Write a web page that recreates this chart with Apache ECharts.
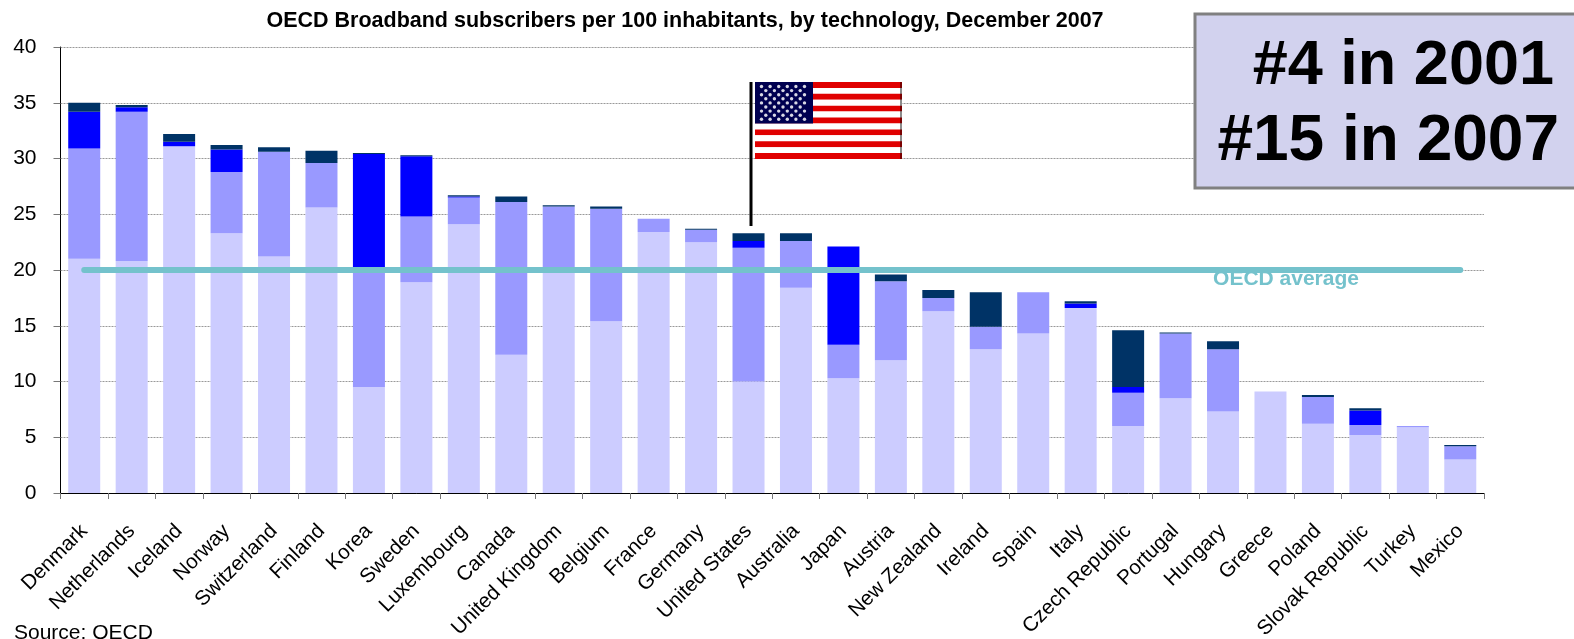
<!DOCTYPE html>
<html>
<head>
<meta charset="utf-8">
<style>html,body{margin:0;padding:0;background:#fff;overflow:hidden}#c{width:1574px;height:639px}</style>
<script src="https://cdn.jsdelivr.net/npm/echarts@6/dist/echarts.min.js"></script>
</head>
<body>
<div id="c"></div>
<script>
const categories = ["Denmark","Netherlands","Iceland","Norway","Switzerland","Finland","Korea","Sweden","Luxembourg","Canada","United Kingdom","Belgium","France","Germany","United States","Australia","Japan","Austria","New Zealand","Ireland","Spain","Italy","Czech Republic","Portugal","Hungary","Greece","Poland","Slovak Republic","Turkey","Mexico"];
const lightSeg = [21.0,20.8,31.1,23.3,21.2,25.6,9.5,18.9,24.1,12.4,20.1,15.4,23.4,22.5,10.0,18.4,10.3,11.9,16.3,12.9,14.3,16.6,6.0,8.5,7.3,9.1,6.2,5.2,5.9,3.0];
const midSeg = [9.9,13.4,0,5.5,9.4,4.0,10.7,5.9,2.4,13.7,5.6,10.1,1.2,1.1,12.0,4.2,3.0,7.1,1.2,2.0,3.7,0,3.0,5.8,5.6,0,2.4,0.9,0.1,1.2];
const blueSeg = [3.3,0.4,0.4,2.0,0,0,10.2,5.4,0.1,0,0,0,0,0,0.6,0,8.8,0,0,0,0,0.4,0.5,0,0,0,0,1.3,0,0];
const navySeg = [0.8,0.2,0.7,0.4,0.4,1.1,0.1,0.1,0.1,0.5,0.1,0.2,0,0.1,0.7,0.7,0,0.6,0.7,3.1,0,0.2,5.1,0.1,0.7,0,0.2,0.2,0,0.1];
const oecdAverage = categories.map(() => 20);
const yTicks = {min:0,max:40,interval:5};
const titleText = "OECD Broadband subscribers per 100 inhabitants, by technology, December 2007";
const boxLines = ["#4 in 2001","#15 in 2007"];
const FONT = '"Liberation Sans", Arial, sans-serif';

function flag(){
  const x=755,y=82,w=147,h=77,sh=h/13,cw=58,ch=sh*7,out=[];
  out.push({type:'rect',shape:{x:749.5,y:82,width:3,height:144},style:{fill:'#000'}});
  for(let i=0;i<13;i++){
    out.push({type:'rect',shape:{x,y:y+i*sh,width:w,height:sh},style:{fill:i%2?'#fff':'#E00000'}});
  }
  out.push({type:'rect',shape:{x:x+w-2,y,width:2,height:h},style:{fill:'rgba(0,0,0,0.45)'}});
  out.push({type:'rect',shape:{x,y,width:cw,height:ch},style:{fill:'#000050'}});
  for(let r=0;r<9;r++){
    const n=r%2?5:6;
    for(let k=0;k<n;k++){
      out.push({type:'circle',shape:{cx:x+6.5+(r%2?4.3:0)+k*8.6,cy:y+4.5+r*4.1,r:1.7},style:{fill:'#D8D8E4'}});
    }
  }
  return out;
}

const chart = echarts.init(document.getElementById('c'),null,{renderer:'canvas'});
function bar(name,data,color){
  return {name,type:'bar',stack:'t',data,barWidth:32,itemStyle:{color},silent:true,z:2};
}
chart.setOption({
  animation:false,
  title:{text:titleText,left:680,top:5,textAlign:'center',textStyle:{fontFamily:FONT,fontWeight:'bold',fontSize:21.5,color:'#000'}},
  grid:{left:60.5,right:90,top:47,bottom:146,containLabel:false,outerBoundsMode:'none'},
  xAxis:{type:'category',data:categories,
    axisLine:{show:true,lineStyle:{color:'#000',width:1}},
    axisTick:{show:true,length:6,lineStyle:{color:'#777'}},
    axisLabel:{rotate:45,interval:0,margin:35,fontFamily:FONT,fontSize:20.6,color:'#000'}},
  yAxis:{type:'value',min:yTicks.min,max:yTicks.max,interval:yTicks.interval,
    axisLine:{show:true,lineStyle:{color:'#000',width:1}},
    axisTick:{show:true,length:7,lineStyle:{color:'#777'}},
    axisLabel:{margin:24,fontFamily:FONT,fontSize:21,color:'#000'},
    splitLine:{show:true,lineStyle:{color:'#999',type:[2,1],width:1}}},
  series:[
    bar('DSL',lightSeg,'#CCCCFF'),
    bar('Cable',midSeg,'#9999FF'),
    bar('Fibre',blueSeg,'#0000FF'),
    bar('Other',navySeg,'#003366'),
    {name:'OECD average',type:'line',data:oecdAverage,symbol:'none',silent:true,z:5,
     lineStyle:{color:'#74C2CC',width:6,cap:'round'}}
  ],
  graphic:[
    {type:'text',x:1286,y:269,z:1,style:{text:'OECD average',font:'bold 21px '+FONT,fill:'#74C2CC',textAlign:'center',textVerticalAlign:'top'}},
    {type:'text',x:14,y:623,style:{text:'Source: OECD',font:'21px '+FONT,fill:'#000'}},
    ...flag().map(e=>Object.assign(e,{z:6})),
    {type:'rect',z:10,shape:{x:1195,y:14,width:390,height:174},style:{fill:'#D2D2EE',stroke:'#808080',lineWidth:3}},
    {type:'text',z:11,x:1554,y:35,style:{text:boxLines[0],font:'bold 63px '+FONT,fill:'#000',textAlign:'right'}},
    {type:'text',z:11,x:1559,y:110,style:{text:boxLines[1],font:'bold 64px '+FONT,fill:'#000',textAlign:'right'}}
  ]
});
</script>
</body>
</html>
